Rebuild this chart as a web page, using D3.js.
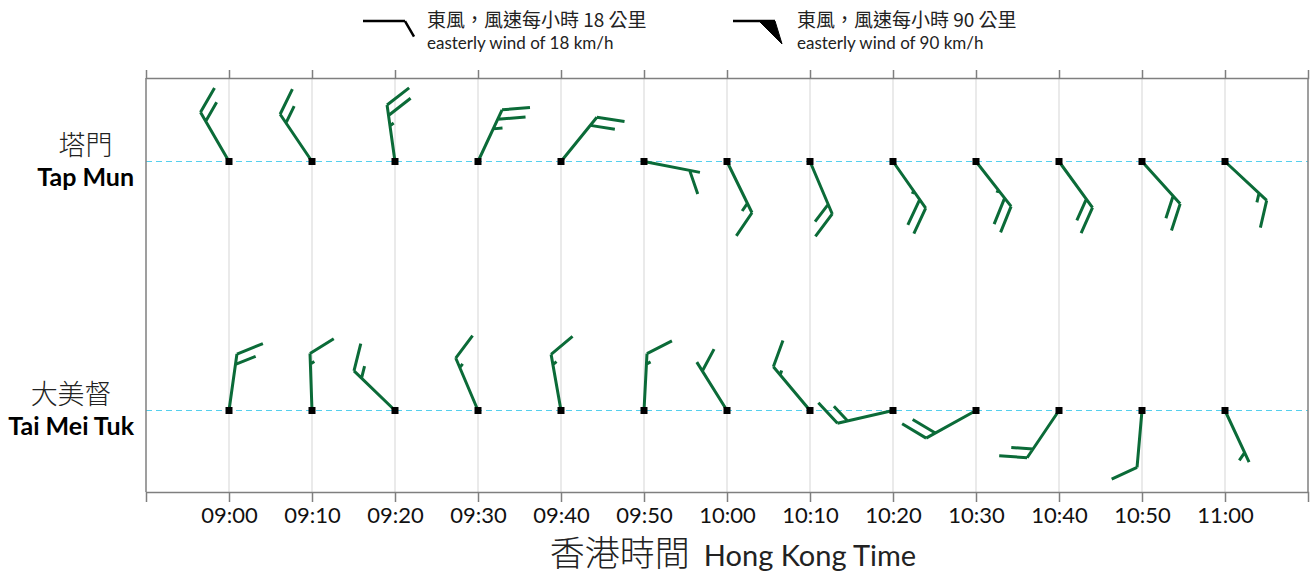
<!DOCTYPE html>
<html>
<head>
<meta charset="utf-8">
<script src="https://cdn.jsdelivr.net/npm/d3@7"></script>
<style>
  body { margin: 0; background: #fff; }
  svg { display: block; }
</style>
</head>
<body>
<div id="chart"></div>
<script>
const times = ['09:00', '09:10', '09:20', '09:30', '09:40', '09:50', '10:00', '10:10', '10:20', '10:30', '10:40', '10:50', '11:00'];
const timeDomain = ['08:50', '11:10'];
const stations = ['Tap Mun', 'Tai Mei Tuk'];
const stationsZh = ['塔門', '大美督'];

// wind direction (degrees, direction the wind blows from) and speed in km/h
const tapMunDir = [330, 326, 352, 25, 39, 101, 154, 157, 145, 142, 144, 138, 133];
const tapMunSpeed = [32, 30, 39, 42, 34, 16, 24, 32, 38, 38, 33, 33, 24];
const taiMeiTukDir = [8, 358, 314, 337, 350, 3, 328, 320, 257, 241, 214, 185, 155];
const taiMeiTukSpeed = [32, 21, 26, 21, 21, 21, 16, 21, 31, 35, 32, 18, 6];

const legendDir = [90, 90];
const legendSpeed = [18, 90];
const legendZh = ['東風，風速每小時 18 公里', '東風，風速每小時 90 公里'];
const legendEn = ['easterly wind of 18 km/h', 'easterly wind of 90 km/h'];

const width = 1316, height = 576;
const margin = { top: 78, right: 8, bottom: 84, left: 146 };
const green = '#0b6b38';
const FULL = 18, FLAG = 90;

const parse = d3.timeParse('%H:%M');

const svg = d3.select('#chart').append('svg')
  .attr('width', width)
  .attr('height', height);

const x = d3.scaleTime()
  .domain(timeDomain.map(parse))
  .range([margin.left, width - margin.right]);

const y = d3.scalePoint()
  .domain(stations)
  .range([margin.top, height - margin.bottom])
  .padding(0.331)
  .round(true);

const plotTop = margin.top, plotBottom = height - margin.bottom;

// grid
svg.append('g').selectAll('line')
  .data(times)
  .enter().append('line')
  .attr('x1', d => x(parse(d))).attr('x2', d => x(parse(d)))
  .attr('y1', plotTop).attr('y2', plotBottom)
  .attr('stroke', '#dcdcdc').attr('stroke-width', 1.2);

svg.append('g').selectAll('line')
  .data(stations)
  .enter().append('line')
  .attr('x1', margin.left).attr('x2', width - margin.right)
  .attr('y1', d => y(d) + 0.5).attr('y2', d => y(d) + 0.5)
  .attr('stroke', '#55d0ee').attr('stroke-width', 1.2)
  .attr('stroke-dasharray', '6,4');

// frame axes
const tickVals = times.map(parse);
const axisB = svg.append('g')
  .attr('transform', `translate(0,${plotBottom})`)
  .call(d3.axisBottom(x).tickValues(tickVals).tickFormat(d3.timeFormat('%H:%M'))
    .tickSize(10).tickSizeOuter(10).tickPadding(5));
const axisT = svg.append('g')
  .attr('transform', `translate(0,${plotTop})`)
  .call(d3.axisTop(x).tickValues(tickVals).tickFormat('').tickSize(8).tickSizeOuter(8));

[axisB, axisT].forEach(a => {
  a.selectAll('path, line').attr('stroke', '#7f7f7f').attr('stroke-width', 1.5);
});
axisB.selectAll('text')
  .attr('fill', '#111')
  .style('font-family', 'Lato, sans-serif')
  .style('font-size', '22px');

svg.append('g').selectAll('line')
  .data([margin.left, width - margin.right])
  .enter().append('line')
  .attr('x1', d => d).attr('x2', d => d)
  .attr('y1', plotTop).attr('y2', plotBottom)
  .attr('stroke', '#7f7f7f').attr('stroke-width', 1.5);

// wind barb
function drawBarb(g, cx, cy, dir, speed, o) {
  const a = dir * Math.PI / 180, b = (dir + 60) * Math.PI / 180, f = (dir + o.flagAngle) * Math.PI / 180;
  const ux = Math.sin(a), uy = -Math.cos(a);
  const bx = Math.sin(b) * o.barb, by = -Math.cos(b) * o.barb;
  const fx = Math.sin(f) * o.flagLen, fy = -Math.cos(f) * o.flagLen;
  const tx = cx + ux * o.staff, ty = cy + uy * o.staff;
  const flags = Math.floor(speed / FLAG);
  const rest = speed - flags * FLAG;
  const fulls = Math.floor(rest / FULL);
  const part = (rest - fulls * FULL) / FULL;

  const p = d3.path();
  p.moveTo(cx, cy); p.lineTo(tx, ty);
  const tri = d3.path();
  let pos = 0;
  for (let i = 0; i < flags; i++) {
    const sx = tx - ux * pos, sy = ty - uy * pos;
    tri.moveTo(sx, sy);
    tri.lineTo(sx + fx, sy + fy);
    tri.lineTo(sx - ux * o.flagW, sy - uy * o.flagW);
    tri.closePath();
    pos += o.flagW + o.gap * 0.5;
  }
  for (let i = 0; i < fulls; i++) {
    const sx = tx - ux * pos, sy = ty - uy * pos;
    p.moveTo(sx, sy); p.lineTo(sx + bx, sy + by);
    pos += o.gap;
  }
  if (part > 0.05) {
    if (flags + fulls === 0) pos = o.gap;
    const sx = tx - ux * pos, sy = ty - uy * pos;
    p.moveTo(sx, sy); p.lineTo(sx + bx * part, sy + by * part);
  }
  g.append('path').attr('d', p.toString())
    .attr('fill', 'none').attr('stroke', o.color)
    .attr('stroke-width', o.width).attr('stroke-linecap', 'butt').attr('stroke-linejoin', 'miter');
  if (flags) g.append('path').attr('d', tri.toString()).attr('fill', o.color).attr('stroke', o.color).attr('stroke-width', 1);
}

const barbOpt = { staff: 57, barb: 28, gap: 10.5, flagW: 13, flagLen: 30, flagAngle: 72, width: 3, color: green };
const series = [
  { station: stations[0], dir: tapMunDir, speed: tapMunSpeed },
  { station: stations[1], dir: taiMeiTukDir, speed: taiMeiTukSpeed }
];

const barbs = svg.append('g');
series.forEach(s => {
  times.forEach((t, i) => {
    drawBarb(barbs, x(parse(t)), y(s.station) + 0.5, s.dir[i], s.speed[i], barbOpt);
  });
});

series.forEach(s => {
  barbs.selectAll(null)
    .data(times)
    .enter().append('rect')
    .attr('x', d => x(parse(d)) - 3.5)
    .attr('y', y(s.station) - 3)
    .attr('width', 7).attr('height', 7)
    .attr('fill', '#000');
});

// station labels
stations.forEach((st, i) => {
  const cy = y(st);
  const en = svg.append('text')
    .attr('x', 134).attr('y', cy + 25)
    .attr('text-anchor', 'end')
    .style('font-family', 'Lato, sans-serif')
    .style('font-weight', 'bold')
    .style('font-size', '25px')
    .attr('fill', '#000')
    .text(st);
  const w = en.node().getComputedTextLength();
  svg.append('text')
    .attr('x', 134 - w / 2).attr('y', cy - 6)
    .attr('text-anchor', 'middle')
    .style('font-family', '"Noto Sans CJK TC", sans-serif')
    .style('font-size', '27px')
    .style('font-weight', 300)
    .attr('fill', '#222')
    .text(stationsZh[i]);
});

// legend
const legendX = [363, 733];
const legendOpt = { staff: 42, barb: 18, gap: 8, flagW: 16, flagLen: 24, flagAngle: 73, width: 2.5, color: '#000' };
legendSpeed.forEach((sp, i) => {
  const g = svg.append('g');
  drawBarb(g, legendX[i], 21, legendDir[i], sp, legendOpt);
  g.append('text')
    .attr('x', legendX[i] + 64).attr('y', 27)
    .style('font-family', '"Noto Sans CJK TC", sans-serif')
    .style('font-size', '19px')
    .attr('fill', '#222')
    .text(legendZh[i]);
  g.append('text')
    .attr('x', legendX[i] + 64).attr('y', 49)
    .style('font-family', 'Lato, sans-serif')
    .style('font-size', '17px')
    .attr('fill', '#222')
    .text(legendEn[i]);
});

// x axis title
const title = svg.append('text')
  .attr('x', 733).attr('y', 566)
  .attr('text-anchor', 'middle')
  .attr('fill', '#222');
title.append('tspan')
  .style('font-family', '"Noto Sans CJK TC", sans-serif')
  .style('font-size', '35px')
  .style('font-weight', 300)
  .text('香港時間');
title.append('tspan')
  .attr('dx', 14)
  .style('font-family', 'Lato, sans-serif')
  .style('font-size', '29px')
  .text('Hong Kong Time');
</script>
</body>
</html>
